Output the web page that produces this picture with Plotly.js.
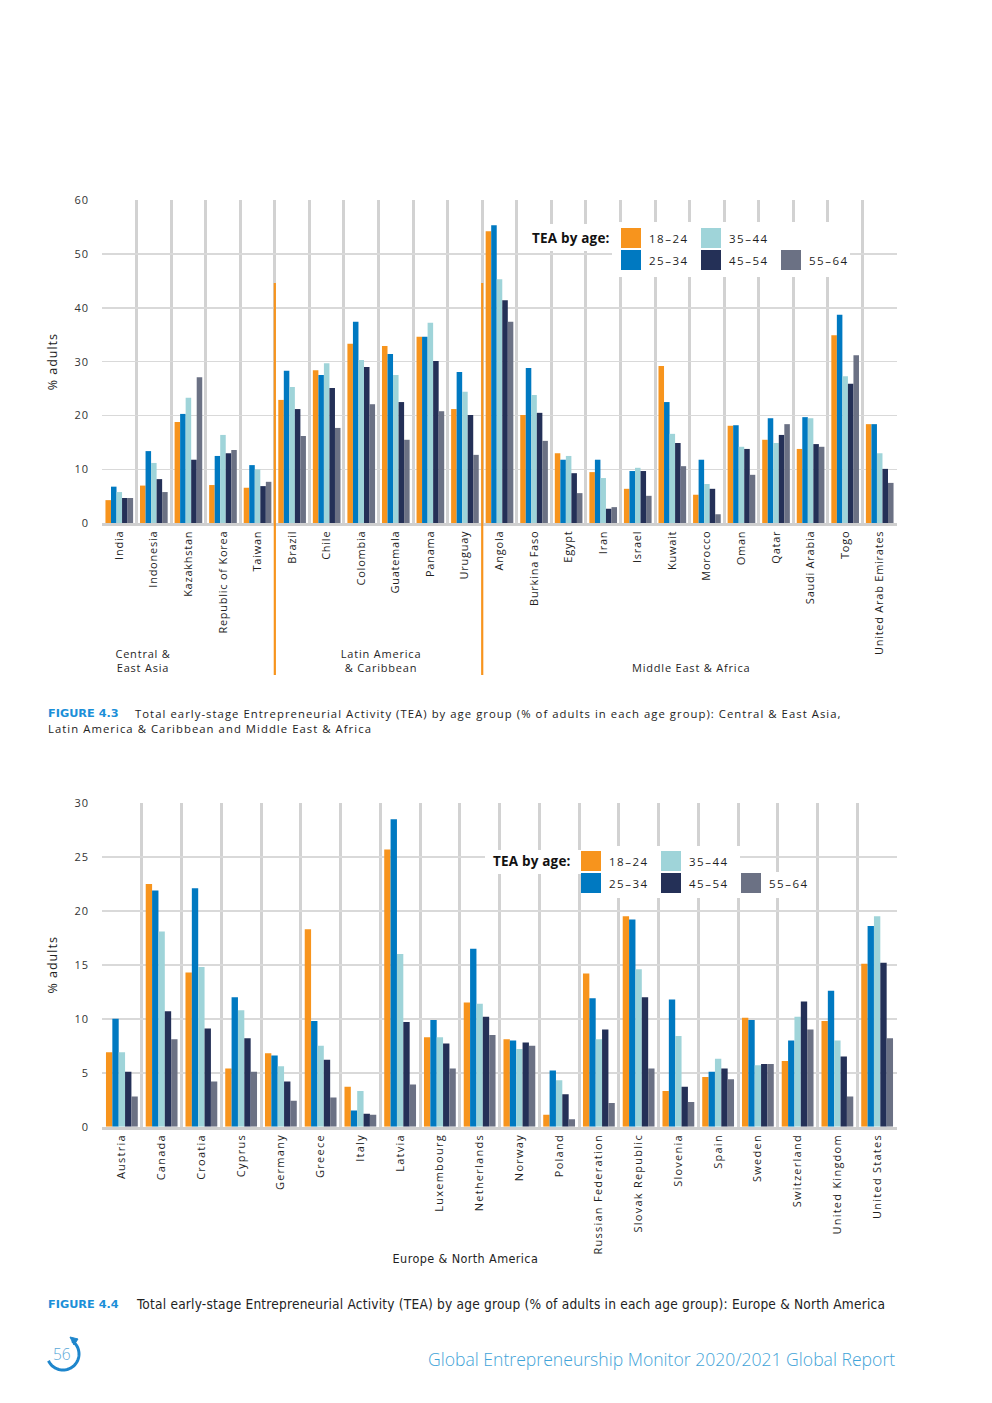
<!DOCTYPE html>
<html>
<head>
<meta charset="utf-8">
<script src="https://cdn.plot.ly/plotly-3.0.1.min.js"></script>
<style>
  html, body { margin: 0; padding: 0; background: #ffffff; }
  #chart { width: 992px; height: 1403px; }
  .xtick text { letter-spacing: 0.75px; }
  .x2tick text { letter-spacing: 1.25px; }
  .ytick text, .y2tick text { letter-spacing: 0.8px; }
  .g-ytitle text, .g-y2title text { letter-spacing: 1px; }
</style>
</head>
<body>
<div id="chart"></div>
<script>
// ---------- DATA ----------
const ageGroups = ['18–24', '25–34', '35–44', '45–54', '55–64'];
const ageColors = ['#F7941D', '#0079C1', '#9FD4D9', '#243057', '#6B7184'];

// Figure 4.3
const countries1 = ['India', 'Indonesia', 'Kazakhstan', 'Republic of Korea', 'Taiwan',
  'Brazil', 'Chile', 'Colombia', 'Guatemala', 'Panama', 'Uruguay',
  'Angola', 'Burkina Faso', 'Egypt', 'Iran', 'Israel', 'Kuwait', 'Morocco', 'Oman',
  'Qatar', 'Saudi Arabia', 'Togo', 'United Arab Emirates'];
const f3_18_24 = [4.3, 7.0, 18.8, 7.1, 6.6, 22.9, 28.4, 33.3, 32.9, 34.6, 21.2, 54.2, 20.1, 13.0, 9.5, 6.4, 29.2, 5.3, 18.1, 15.5, 13.8, 34.9, 18.4];
const f3_25_34 = [6.8, 13.4, 20.3, 12.5, 10.8, 28.3, 27.5, 37.4, 31.4, 34.6, 28.1, 55.3, 28.8, 11.8, 11.8, 9.7, 22.5, 11.8, 18.2, 19.5, 19.7, 38.7, 18.4];
const f3_35_44 = [5.8, 11.2, 23.3, 16.4, 10.0, 25.3, 29.7, 30.3, 27.5, 37.2, 24.4, 45.3, 23.8, 12.5, 8.4, 10.3, 16.6, 7.3, 14.2, 14.9, 19.5, 27.3, 13.0];
const f3_45_54 = [4.7, 8.2, 11.8, 13.0, 6.9, 21.2, 25.1, 29.0, 22.5, 30.1, 20.1, 41.4, 20.5, 9.3, 2.7, 9.7, 14.9, 6.4, 13.8, 16.4, 14.7, 25.9, 10.1];
const f3_55_64 = [4.7, 5.8, 27.1, 13.6, 7.7, 16.2, 17.7, 22.1, 15.5, 20.8, 12.7, 37.4, 15.3, 5.6, 3.0, 5.1, 10.6, 1.7, 9.0, 18.4, 14.2, 31.2, 7.5];
const regions1 = ['Central &<br>East Asia', 'Latin America<br>& Caribbean', 'Middle East & Africa'];
const regionCounts1 = [5, 6, 12];

// Figure 4.4
const countries2 = ['Austria', 'Canada', 'Croatia', 'Cyprus', 'Germany', 'Greece', 'Italy', 'Latvia',
  'Luxembourg', 'Netherlands', 'Norway', 'Poland', 'Russian Federation', 'Slovak Republic',
  'Slovenia', 'Spain', 'Sweden', 'Switzerland', 'United Kingdom', 'United States'];
const f4_18_24 = [6.9, 22.5, 14.3, 5.4, 6.8, 18.3, 3.7, 25.7, 8.3, 11.5, 8.1, 1.1, 14.2, 19.5, 3.3, 4.6, 10.1, 6.1, 9.8, 15.1];
const f4_25_34 = [10.0, 21.9, 22.1, 12.0, 6.6, 9.8, 1.5, 28.5, 9.9, 16.5, 8.0, 5.2, 11.9, 19.2, 11.8, 5.1, 9.9, 8.0, 12.6, 18.6];
const f4_35_44 = [6.9, 18.1, 14.8, 10.8, 5.6, 7.5, 3.3, 16.0, 8.3, 11.4, 7.2, 4.3, 8.1, 14.6, 8.4, 6.3, 5.7, 10.2, 8.0, 19.5];
const f4_45_54 = [5.1, 10.7, 9.1, 8.2, 4.2, 6.2, 1.2, 9.7, 7.7, 10.2, 7.8, 3.0, 9.0, 12.0, 3.7, 5.4, 5.8, 11.6, 6.5, 15.2];
const f4_55_64 = [2.8, 8.1, 4.2, 5.1, 2.4, 2.7, 1.1, 3.9, 5.4, 8.5, 7.5, 0.7, 2.2, 5.4, 2.3, 4.4, 5.8, 9.0, 2.8, 8.2];
const region2 = 'Europe & North America';

const legendTitle = 'TEA by age:';
const yTitle = '% adults';
const fig3Label = 'FIGURE 4.3';
const fig3Text1 = 'Total early-stage Entrepreneurial Activity (TEA) by age group (% of adults in each age group): Central & East Asia,';
const fig3Text2 = 'Latin America & Caribbean and Middle East & Africa';
const fig4Label = 'FIGURE 4.4';
const fig4Text = 'Total early-stage Entrepreneurial Activity (TEA) by age group (% of adults in each age group): Europe & North America';
const pageNumber = '56';
const footerText = 'Global Entrepreneurship Monitor 2020/2021 Global Report';

// ---------- LAYOUT HELPERS ----------
const W = 992, H = 1403;
const px = x => x / W;
const py = y => 1 - y / H;
const FONT = 'Open Sans, Lato, sans-serif';
const COND = 'DejaVu Sans Condensed, Roboto, sans-serif';
const spacing = {};   // annotation text -> letter spacing (px), applied after render

const series1 = [f3_18_24, f3_25_34, f3_35_44, f3_45_54, f3_55_64];
const series2 = [f4_18_24, f4_25_34, f4_35_44, f4_45_54, f4_55_64];

const traces = [];
series1.forEach((vals, i) => traces.push({
  type: 'bar', x: countries1, y: vals, name: ageGroups[i], xaxis: 'x', yaxis: 'y',
  marker: { color: ageColors[i], line: { width: 0 } }, showlegend: false
}));
series2.forEach((vals, i) => traces.push({
  type: 'bar', x: countries2, y: vals, name: ageGroups[i], xaxis: 'x2', yaxis: 'y2',
  marker: { color: ageColors[i], line: { width: 0 } }, showlegend: false
}));

function xAxis(domain) {
  return {
    domain: domain, type: 'category', tickson: 'boundaries',
    showgrid: true, gridcolor: '#d2d2d2', gridwidth: 3,
    ticks: '', tickangle: -90,
    tickfont: { family: FONT, size: 11, color: '#1f1f1f' },
    showline: true, linecolor: '#cfcfcf', linewidth: 3,
    zeroline: false, fixedrange: true
  };
}
function yAxis(domain, range, dtick, anchor) {
  return {
    domain: domain, range: range, dtick: dtick, anchor: anchor,
    showgrid: true, gridcolor: '#d9d9d9', gridwidth: 1.5,
    zeroline: false, showline: false,
    ticks: 'outside', ticklen: 10, tickcolor: 'rgba(0,0,0,0)',
    tickfont: { family: FONT, size: 11, color: '#333333' },
    title: { text: yTitle, font: { family: FONT, size: 12.5, color: '#222222' }, standoff: 14 },
    fixedrange: true
  };
}

const shapes = [];
const annotations = [];
function ann(o, ls) {
  annotations.push(Object.assign({ xref: 'paper', yref: 'paper', showarrow: false }, o));
  if (ls) spacing[o.text.replace(/<[^>]+>/g, '')] = ls;
}

// region separators (figure 4.3)
let cum = 0;
regionCounts1.forEach((c, i) => {
  cum += c;
  if (i < regionCounts1.length - 1) {
    shapes.push({ type: 'line', xref: 'x', yref: 'paper', x0: cum - 0.5, x1: cum - 0.5,
      y0: py(675), y1: py(283), line: { color: '#F7941D', width: 2.2 }, layer: 'above' });
  }
});

// region labels
const regionPos1 = [[143, 660], [381, 660], [691, 667]];
regions1.forEach((r, i) => ann({
  x: px(regionPos1[i][0]), y: py(regionPos1[i][1]),
  text: r, xanchor: 'center', yanchor: 'middle', align: 'center',
  font: { family: FONT, size: 11, color: '#1f1f1f' }
}));
ann({ x: px(465), y: py(1258), text: region2, xanchor: 'center', yanchor: 'middle',
  font: { family: COND, size: 12.5, color: '#1f1f1f' } });

// custom legends
function addLegend(titleRight, titleY, boxes, swX, rowY) {
  boxes.forEach(b => shapes.push({ type: 'rect', xref: 'paper', yref: 'paper',
    x0: px(b[0]), x1: px(b[1]), y0: py(b[3]), y1: py(b[2]),
    fillcolor: '#ffffff', line: { width: 0 }, layer: 'above' }));
  ann({ x: px(titleRight), y: py(titleY), text: '<b>' + legendTitle + '</b>',
    xanchor: 'right', yanchor: 'middle',
    font: { family: FONT, size: 13.5, color: '#111111' } });
  // col 0 -> 18-24 / 25-34 ; col 1 -> 35-44 / 45-54 ; col 2 -> (none) / 55-64
  const cells = [[0, 0], [0, 1], [1, 0], [1, 1], [2, 1]];
  ageGroups.forEach((g, i) => {
    const cx = swX[cells[i][0]], cy = rowY[cells[i][1]];
    shapes.push({ type: 'rect', xref: 'paper', yref: 'paper',
      x0: px(cx), x1: px(cx + 20), y0: py(cy + 10), y1: py(cy - 10),
      fillcolor: ageColors[i], line: { width: 0 }, layer: 'above' });
    ann({ x: px(cx + 26), y: py(cy), text: g, xanchor: 'left', yanchor: 'middle', align: 'left',
      font: { family: FONT, size: 11.5, color: '#1f1f1f' } }, 1.5);
  });
}
addLegend(611, 238, [[525, 612, 224, 251], [612, 850, 222, 277]], [621, 701, 781], [238, 260]);
addLegend(572, 861, [[485, 582, 850, 874], [582, 740, 846, 898], [740, 812, 872, 898]], [581, 661, 741], [861, 883]);

// captions
function caption(label, x, y) {
  ann({ x: px(x), y: py(y), text: '<b>' + label + '</b>', xanchor: 'left', yanchor: 'middle', align: 'left',
    font: { family: 'DejaVu Sans, sans-serif', size: 11.3, color: '#1B8FD8' } });
}
function captionText(t, x, y, fam, size, ls) {
  ann({ x: px(x), y: py(y), text: t, xanchor: 'left', yanchor: 'middle', align: 'left',
    font: { family: fam, size: size, color: '#222222' } }, ls);
}
caption(fig3Label, 46, 713);
captionText(fig3Text1, 133, 713, FONT, 11.3, 1.05);
captionText(fig3Text2, 46, 729, FONT, 11.3, 1.05);
caption(fig4Label, 46, 1304);
captionText(fig4Text, 134, 1304, COND, 13.6, 0.2);

// footer
ann({ x: px(897), y: py(1359), text: footerText, xanchor: 'right', yanchor: 'middle',
  font: { family: FONT, size: 17.6, color: '#3FA3D8', weight: 300 } });
ann({ x: px(62), y: py(1354), text: pageNumber, xanchor: 'center', yanchor: 'middle',
  font: { family: FONT, size: 15.5, color: '#5AA8D8', weight: 300 } });
// circular arrow icon around the page number
(function () {
  const cx = 63, cy = 1354, r = 16;
  let d = '';
  for (let a = -55; a <= 155; a += 5) {
    const t = a * Math.PI / 180;
    const X = cx + r * Math.cos(t), Y = cy + r * Math.sin(t);
    d += (d ? ' L ' : 'M ') + px(X).toFixed(5) + ',' + py(Y).toFixed(5);
  }
  shapes.push({ type: 'path', xref: 'paper', yref: 'paper', path: d,
    line: { color: '#1E86CC', width: 3 }, layer: 'above' });
  const tip = [[70, 1337], [78, 1339], [74, 1345]];
  const p = 'M ' + tip.map(q => px(q[0]).toFixed(5) + ',' + py(q[1]).toFixed(5)).join(' L ') + ' Z';
  shapes.push({ type: 'path', xref: 'paper', yref: 'paper', path: p,
    fillcolor: '#1E86CC', line: { color: '#1E86CC', width: 1 }, layer: 'above' });
})();

// region-label spacing
spacing['Central &'] = 0.8; spacing['East Asia'] = 0.8;
spacing['Latin America'] = 0.8; spacing['& Caribbean'] = 0.8;
spacing['Middle East & Africa'] = 0.8;
spacing[region2] = 0.4;
spacing[legendTitle] = 0.2;

const layout = {
  width: W, height: H,
  margin: { l: 0, r: 0, t: 0, b: 0 },
  paper_bgcolor: '#ffffff', plot_bgcolor: '#ffffff',
  barmode: 'group', bargap: 0.2, bargroupgap: 0,
  showlegend: false,
  xaxis: Object.assign(xAxis([px(102), px(897)]), { anchor: 'y' }),
  yaxis: yAxis([py(523.3), py(200)], [0, 60], 10, 'x'),
  xaxis2: Object.assign(xAxis([px(102), px(897)]), { anchor: 'y2' }),
  yaxis2: yAxis([py(1126.7), py(803)], [0, 30], 5, 'x2'),
  shapes: shapes,
  annotations: annotations,
  font: { family: FONT }
};

Plotly.newPlot('chart', traces, layout, { displayModeBar: false, staticPlot: true }).then(function (gd) {
  gd.querySelectorAll('.annotation-text').forEach(function (el) {
    const tspans = el.querySelectorAll('tspan.line');
    const parts = tspans.length ? Array.from(tspans) : [el];
    parts.forEach(function (t) {
      const key = t.textContent;
      const whole = el.textContent;
      const ls = spacing[key] !== undefined ? spacing[key] : spacing[whole];
      if (ls !== undefined) t.style.letterSpacing = ls + 'px';
    });
  });
});
</script>
</body>
</html>
